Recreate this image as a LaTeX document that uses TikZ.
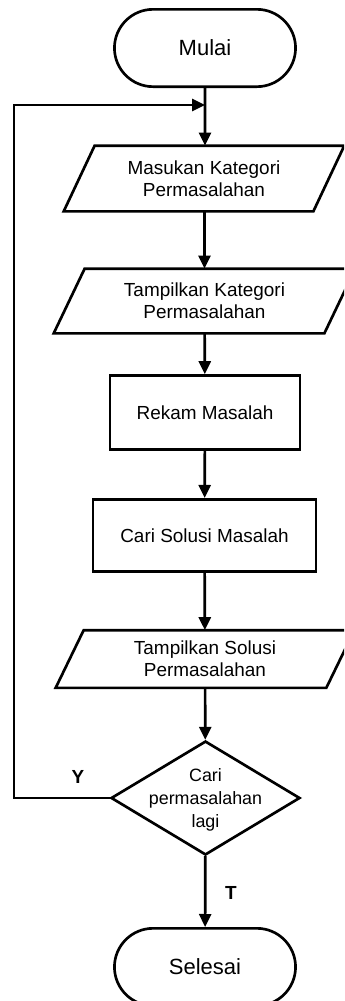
\documentclass[tikz,border=0pt]{standalone}
\usepackage{fontspec}
\setmainfont{Liberation Sans}
\usetikzlibrary{shapes.geometric,shapes.misc,arrows.meta}
% jajargenjang dari node persegi: #1 nama node, #2 setengah kemiringan
\newcommand{\jajargenjang}[2]{\draw ([xshift=#2]#1.north west) -- ([xshift=#2]#1.north east) -- ([xshift=-#2]#1.south east) -- ([xshift=-#2]#1.south west) -- cycle;}

\begin{document}
\begin{tikzpicture}[x=0.75pt, y=-0.75pt, line width=2pt,
		arrow/.style={-{Triangle[length=9.75pt, width=9pt]}},
		terminal/.style={draw, rounded rectangle, minimum width=142.5pt, minimum height=58pt, font=\fontsize{16.5}{19}\selectfont},
		process/.style={draw, rectangle, font=\fontsize{14.2}{16.3}\selectfont},
		io/.style={rectangle, minimum width=201pt, inner sep=0pt, align=center, font=\fontsize{14.2}{16.3}\selectfont},
		decision/.style={draw, diamond, inner sep=0pt, minimum width=141.75pt, minimum height=85.5pt},
		dectext/.style={align=center, inner sep=0pt, font=\fontsize{13.4}{17}\selectfont},
		lbl/.style={font=\fontsize{14.2}{16.3}\selectfont\bfseries}]
	\path[use as bounding box, clip] (0,0) rectangle (344,1001);
	% simbol flowchart
	\node[terminal] (mulai) at (205,48) {Mulai};
	\node[io, minimum width=185.25pt, minimum height=47.25pt] (masukan) at (204,178.5) {Masukan Kategori\\Permasalahan};
	\jajargenjang{masukan}{11.6pt}
	\node[io, minimum height=46.5pt] (tampilkat) at (204.5,301) {Tampilkan Kategori\\Permasalahan};
	\jajargenjang{tampilkat}{11.6pt}
	\node[process, minimum width=142.5pt, minimum height=55.5pt] (rekam) at (205,412.5) {Rekam Masalah};
	\node[process, minimum width=167.25pt, minimum height=54pt] (cari) at (204.5,535.3) {Cari Solusi Masalah};
	\node[io, minimum height=41.25pt] (tampilsol) at (205,659) {Tampilkan Solusi\\Permasalahan};
	\jajargenjang{tampilsol}{10.5pt}
	\node[decision] (lagi) at (205.5,798) {};
	\node[dectext] (lagitxt) at (205.5,800) {Cari\\permasalahan\\lagi};
	\node[terminal] (selesai) at (205,967) {Selesai};
	% titik bantu untuk perulangan
	\coordinate (gabung) at (205,105);
	\coordinate (kiri) at (14,105);
	% garis alir
	\draw[arrow] (mulai) -- (mulai |- masukan.north);
	\draw[arrow] (masukan.south -| tampilkat) -- (tampilkat.north -| tampilkat);
	\draw[arrow] (tampilkat) -- (rekam);
	\draw[arrow] (rekam) -- (cari);
	\draw[arrow] (cari) -- (tampilsol);
	\draw[arrow] (tampilsol) -- (lagi);
	\draw[arrow] (lagi) -- (selesai);
	\draw[arrow] (lagi.west) -| (kiri) -- (gabung);
	\node[lbl] (ya) at (78,777) {Y};
	\node[lbl] (tidak) at (231,893) {T};
\end{tikzpicture}
\end{document}
